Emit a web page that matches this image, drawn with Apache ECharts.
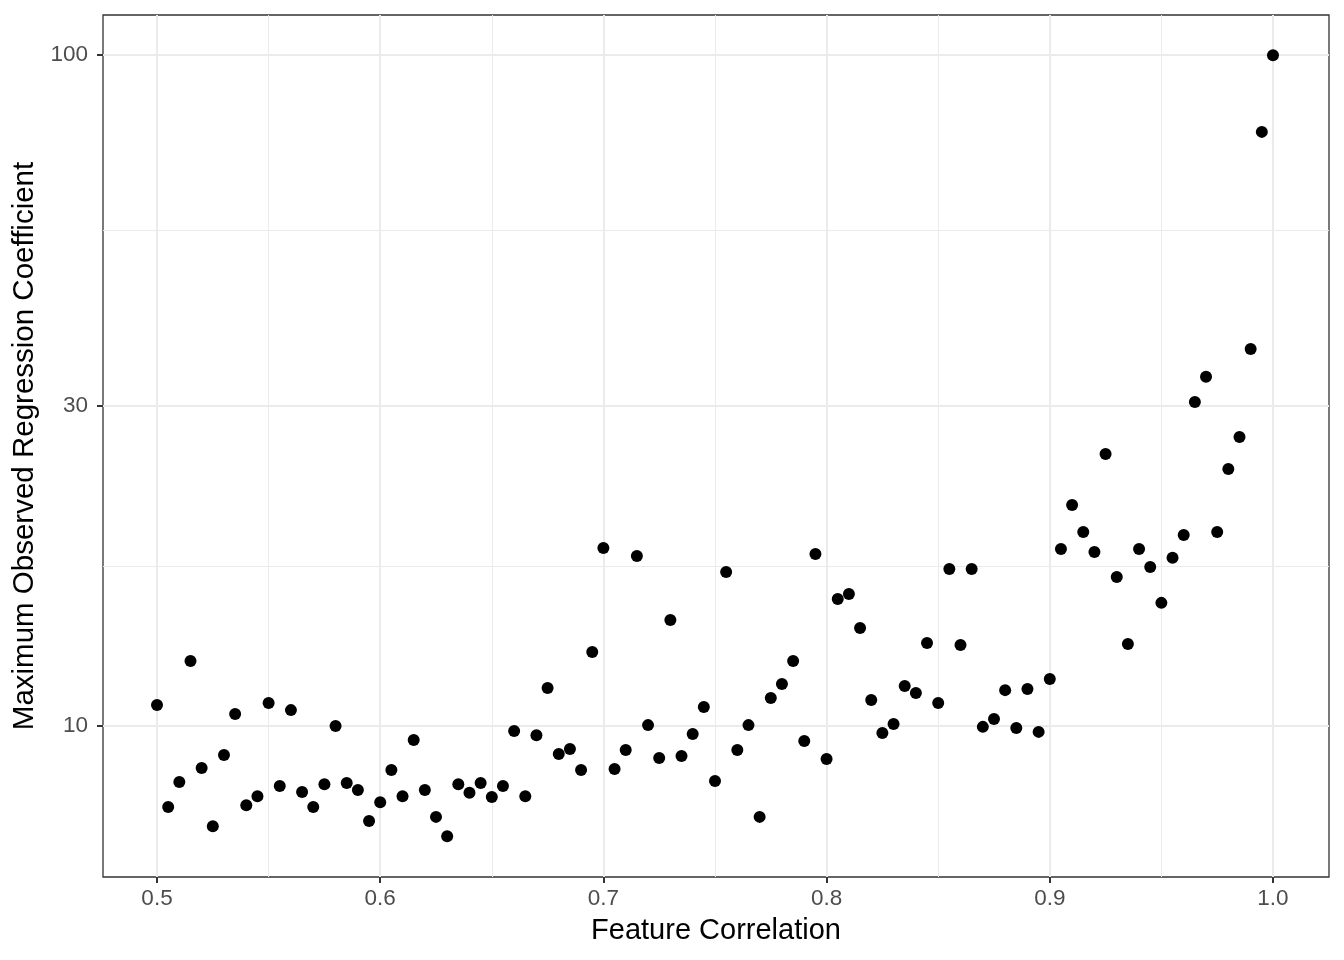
<!DOCTYPE html>
<html><head><meta charset="utf-8">
<script src="https://cdn.jsdelivr.net/npm/echarts@6/dist/echarts.min.js"></script>
<style>html,body{margin:0;padding:0;background:#fff}#c{width:1344px;height:960px}</style>
</head><body><div id="c"></div>
<script>
const xValues = [0.500,0.505,0.510,0.515,0.520,0.525,0.530,0.535,0.540,0.545,0.550,0.555,0.560,0.565,0.570,0.575,0.580,0.585,0.590,0.595,0.600,0.605,0.610,0.615,0.620,0.625,0.630,0.635,0.640,0.645,0.650,0.655,0.660,0.665,0.670,0.675,0.680,0.685,0.690,0.695,0.700,0.705,0.710,0.715,0.720,0.725,0.730,0.735,0.740,0.745,0.750,0.755,0.760,0.765,0.770,0.775,0.780,0.785,0.790,0.795,0.800,0.805,0.810,0.815,0.820,0.825,0.830,0.835,0.840,0.845,0.850,0.855,0.860,0.865,0.870,0.875,0.880,0.885,0.890,0.895,0.900,0.905,0.910,0.915,0.920,0.925,0.930,0.935,0.940,0.945,0.950,0.955,0.960,0.965,0.970,0.975,0.980,0.985,0.990,0.995,1.000];
const yValues = [10.75,7.57,8.25,12.50,8.66,7.09,9.05,10.42,7.62,7.86,10.82,8.14,10.56,7.97,7.57,8.19,10.0,8.22,8.03,7.22,7.70,8.60,7.86,9.53,8.03,7.32,6.85,8.19,7.95,8.22,7.84,8.14,9.83,7.86,9.69,11.39,9.08,9.24,8.60,12.89,18.43,8.63,9.21,17.93,10.03,8.96,14.39,9.02,9.73,10.67,8.28,16.97,9.21,10.03,7.32,11.01,11.55,12.50,9.50,18.05,8.93,15.47,15.73,14.00,10.93,9.76,10.07,11.47,11.20,13.30,10.82,17.14,13.21,17.14,9.97,10.24,11.31,9.93,11.35,9.80,11.75,18.36,21.36,19.46,18.17,25.44,16.68,13.25,18.36,17.26,15.26,17.81,19.27,30.41,33.15,19.46,24.16,26.97,36.48,76.86,100.0];
const xTicks = [0.5,0.6,0.7,0.8,0.9,1.0];
const xMinor = [0.55,0.65,0.75,0.85,0.95];
const yTicks = [10,30,100];
const yMinor = [17.32,54.77];
const xTitle = 'Feature Correlation';
const yTitle = 'Maximum Observed Regression Coefficient';

const pts = xValues.map((x,i)=>[x,yValues[i]]);
const xMin = 0.4758, xMax = 1.0251, yMin = 5.955, yMax = 114.8;
const font = 'Liberation Sans, Arial, Helvetica, sans-serif';

const chart = echarts.init(document.getElementById('c'), null, {renderer:'canvas'});
chart.setOption({
  animation:false,
  backgroundColor:'#fff',
  grid:{left:103, top:15, right:15, bottom:83, show:true, borderColor:'#333333', borderWidth:1.3, backgroundColor:'transparent'},
  xAxis:[{
    type:'value', min:xMin, max:xMax,
    name:xTitle, nameLocation:'middle', nameGap:39,
    nameTextStyle:{fontFamily:font, fontSize:29, color:'#000'},
    axisLine:{show:false},
    axisTick:{show:true, customValues:xTicks, length:6, lineStyle:{color:'#333333', width:2}},
    axisLabel:{customValues:xTicks, fontFamily:font, fontSize:22.5, color:'#4D4D4D', margin:10,
      formatter:v=>v.toFixed(1)},
    splitLine:{show:true, lineStyle:{color:'#EBEBEB', width:2}}
  },{
    type:'value', min:xMin, max:xMax, position:'top',
    axisLine:{show:false}, axisLabel:{show:false},
    axisTick:{show:false, customValues:xMinor},
    splitLine:{show:true, lineStyle:{color:'#EBEBEB', width:1}}
  }],
  yAxis:[{
    type:'log', logBase:10, min:yMin, max:yMax,
    name:yTitle, nameLocation:'middle', nameGap:63,
    nameTextStyle:{fontFamily:font, fontSize:29.5, color:'#000'},
    axisLine:{show:false},
    axisTick:{show:true, customValues:yTicks, length:6, lineStyle:{color:'#333333', width:2}},
    axisLabel:{customValues:yTicks, fontFamily:font, fontSize:22.5, color:'#4D4D4D', margin:15},
    splitLine:{show:true, lineStyle:{color:'#EBEBEB', width:2}}
  },{
    type:'log', logBase:10, min:yMin, max:yMax, position:'right',
    axisLine:{show:false}, axisLabel:{show:false},
    axisTick:{show:false, customValues:yMinor},
    splitLine:{show:true, lineStyle:{color:'#EBEBEB', width:1}}
  }],
  series:[{
    type:'scatter', xAxisIndex:0, yAxisIndex:0,
    data:pts, symbol:'circle', symbolSize:12,
    itemStyle:{color:'#000', opacity:1}, z:5
  }]
});
</script></body></html>
